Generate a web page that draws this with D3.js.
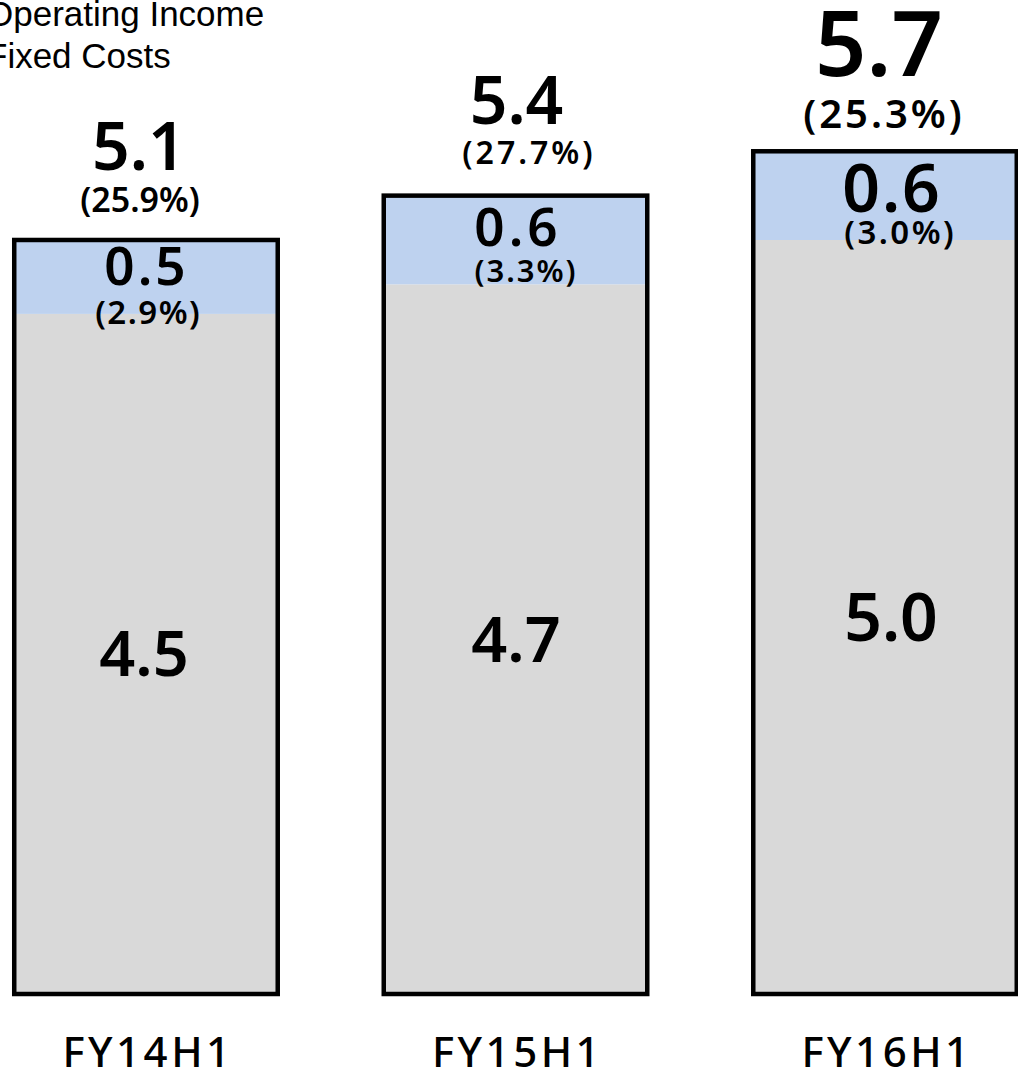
<!DOCTYPE html>
<html>
<head>
<meta charset="utf-8">
<script src="https://cdn.jsdelivr.net/npm/d3@7"></script>
<style>
  html, body { margin: 0; padding: 0; background: #ffffff; overflow: hidden; }
  svg { display: block; }
</style>
</head>
<body>
<script>
// Half-year periods
const categories = ["FY14H1", "FY15H1", "FY16H1"];
// Sales-side totals (fixed costs + operating income) and their share
const totalValues = [5.1, 5.4, 5.7];
const totalShares = [25.9, 27.7, 25.3];
// Operating income (top segment) and its share
const incomeValues = [0.5, 0.6, 0.6];
const incomeShares = [2.9, 3.3, 3.0];
// Fixed costs label values (bottom segment)
const fixedCostValues = [4.5, 4.7, 5.0];
// Series names
const seriesNames = ["Operating Income", "Fixed Costs"];

const W = 1018, H = 1069;
const colors = { income: "#bed2ef", fixed: "#d9d9d9", outline: "#000000" };

// Per-bar typography (the latest period is emphasised)
const labelStyle = [
  { totalSize: 66, totalDy: -70, totalDx: -7, shareSize: 34, shareDy: -28, shareDx: -6, shareLs: 0,
    incSize: 53, incDy: 45, incDx: -1, incLs: 3, incShareSize: 33, incShareDy: 84, incShareDx: 1.5, incShareLs: 1.5,
    fixSize: 63, fixDx: -2 },
  { totalSize: 66, totalDy: -72, totalDx: 1, shareSize: 32, shareDy: -32, shareDx: 12, shareLs: 3,
    incSize: 53, incDy: 50, incDx: 0.5, incLs: 4, incShareSize: 31, incShareDy: 86, incShareDx: 9.5, incShareLs: 2,
    fixSize: 63, fixDx: 0.5 },
  { totalSize: 90, totalDy: -75, totalDx: -6, shareSize: 40, shareDy: -23, shareDx: -2.5, shareLs: 3,
    incSize: 66, incDy: 61, incDx: 6, incLs: 2, incShareSize: 33, incShareDy: 93, incShareDx: 14, incShareLs: 2.5,
    fixSize: 66, fixDx: 6 }
];

const svg = d3.select("body").append("svg")
  .attr("width", W).attr("height", H);

const x = d3.scaleBand()
  .domain(categories)
  .range([-38.75, 1069.75])
  .paddingInner(0.2869)
  .paddingOuter(0.1434);

const y = d3.scaleLinear()
  .domain([0, 6.5])
  .range([994, 33]);

const rows = categories.map((c, i) => ({
  cat: c,
  total: totalValues[i],
  totalShare: totalShares[i],
  income: incomeValues[i],
  incomeShare: incomeShares[i],
  fixedLabel: fixedCostValues[i],
  base: totalValues[i] - incomeValues[i],
  st: labelStyle[i]
}));

const numFont = "'Noto Sans', 'Open Sans', sans-serif";

const g = svg.append("g");

// Fixed costs segment
g.selectAll("rect.fixed").data(rows).join("rect")
  .attr("class", "fixed")
  .attr("x", d => x(d.cat))
  .attr("width", x.bandwidth())
  .attr("y", d => y(d.base))
  .attr("height", d => y(0) - y(d.base))
  .attr("fill", colors.fixed);

// Operating income segment
g.selectAll("rect.income").data(rows).join("rect")
  .attr("class", "income")
  .attr("x", d => x(d.cat))
  .attr("width", x.bandwidth())
  .attr("y", d => y(d.total))
  .attr("height", d => y(d.base) - y(d.total))
  .attr("fill", colors.income);

// Outline around the whole stack
g.selectAll("rect.outline").data(rows).join("rect")
  .attr("class", "outline")
  .attr("x", d => x(d.cat))
  .attr("width", x.bandwidth())
  .attr("y", d => y(d.total))
  .attr("height", d => y(0) - y(d.total))
  .attr("fill", "none")
  .attr("stroke", colors.outline)
  .attr("stroke-width", 4.5);

const cx = d => x(d.cat) + x.bandwidth() / 2;

function label(cls, yFn, sizeFn, textFn, dxFn, lsFn) {
  g.selectAll("text." + cls).data(rows).join("text")
    .attr("class", cls)
    .attr("x", d => cx(d) + dxFn(d) + lsFn(d) / 2)
    .attr("y", yFn)
    .attr("text-anchor", "middle")
    .attr("font-family", numFont)
    .attr("font-weight", 600)
    .attr("font-size", sizeFn)
    .attr("letter-spacing", lsFn)
    .attr("fill", "#000")
    .text(textFn);
}

// Totals above each bar
label("total", d => y(d.total) + d.st.totalDy, d => d.st.totalSize, d => d.total.toFixed(1),
  d => d.st.totalDx, () => 0);
label("totalShare", d => y(d.total) + d.st.shareDy, d => d.st.shareSize, d => `(${d.totalShare.toFixed(1)}%)`,
  d => d.st.shareDx, d => d.st.shareLs);
// Operating income inside the blue segment
label("inc", d => y(d.total) + d.st.incDy, d => d.st.incSize, d => d.income.toFixed(1),
  d => d.st.incDx, d => d.st.incLs);
label("incShare", d => y(d.total) + d.st.incShareDy, d => d.st.incShareSize, d => `(${d.incomeShare.toFixed(1)}%)`,
  d => d.st.incShareDx, d => d.st.incShareLs);
// Fixed costs centred in the grey segment
label("fix", d => (y(d.base) + y(0)) / 2 + 0.357 * d.st.fixSize, d => d.st.fixSize, d => d.fixedLabel.toFixed(1),
  d => d.st.fixDx, () => 0);

// Category axis labels
const xAxis = d3.axisBottom(x).tickSize(0).tickPadding(0);
const axG = svg.append("g").attr("transform", `translate(0, ${y(0)})`).call(xAxis);
axG.select(".domain").remove();
axG.selectAll("text")
  .attr("x", 2)
  .attr("y", 73)
  .attr("dy", 0)
  .attr("font-family", numFont)
  .attr("font-weight", 500)
  .attr("font-size", 42)
  .attr("letter-spacing", 3.5)
  .attr("fill", "#000");

// Series names
svg.selectAll("text.series").data(seriesNames).join("text")
  .attr("class", "series")
  .attr("x", -14)
  .attr("y", (d, i) => 26 + i * 42)
  .attr("font-family", "'Liberation Sans', Arial, sans-serif")
  .attr("font-size", 35)
  .attr("fill", "#000")
  .text(d => d);
</script>
</body>
</html>
